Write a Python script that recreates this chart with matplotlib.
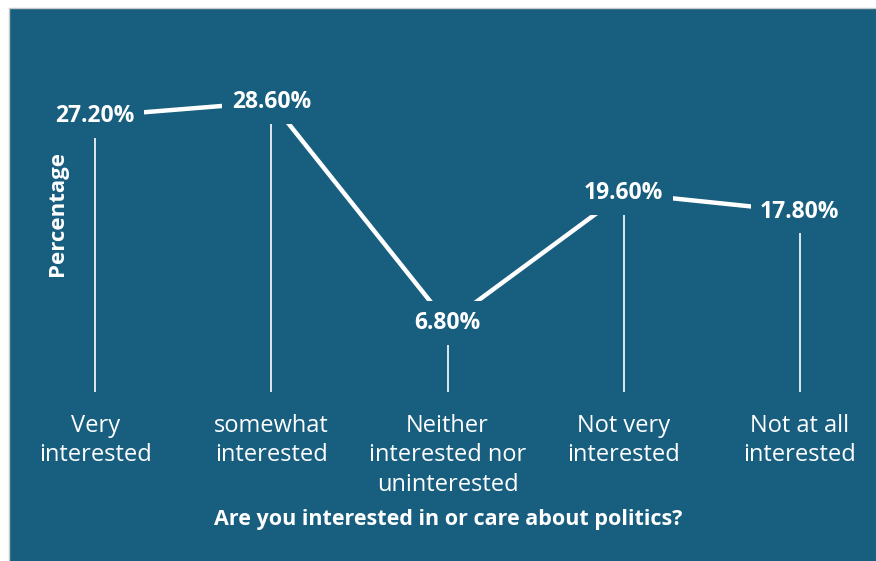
import matplotlib.pyplot as plt
from matplotlib.patches import Rectangle

categories = ["Very\ninterested", "somewhat\ninterested", "Neither\ninterested nor\nuninterested",
              "Not very\ninterested", "Not at all\ninterested"]
values = [27.2, 28.6, 6.8, 19.6, 17.8]
labels = ["27.20%", "28.60%", "6.80%", "19.60%", "17.80%"]

bg = "#175e7f"
plt.rcParams['font.family'] = ['Open Sans', 'DejaVu Sans']

fig = plt.figure(figsize=(8.76, 5.61), dpi=100, facecolor='white')
W, H = 876, 561

# panel background with thin grey edge on left/top
fig.patches.append(Rectangle((9 / W, -0.01), 1.0, 1 - 8 / H + 0.01, transform=fig.transFigure,
                             facecolor=bg, edgecolor='#c8c8c8', linewidth=1.0, zorder=-5))

ax = fig.add_axes([9 / W, (H - 392) / H, (W - 9) / W, 384 / H])
ax.set_zorder(2)
ax.set_facecolor('none')
ax.set_xlim(-0.489, 4.432)
ax.set_ylim(0, 37.87)
for s in ax.spines.values():
    s.set_visible(False)
ax.set_xticks([])
ax.set_yticks([])

x = list(range(len(values)))
ax.vlines(x, 0, values, color='white', linewidth=1.2, zorder=1)
ax.plot(x, values, color='white', linewidth=3.2, solid_capstyle='butt', zorder=2)

for xi, v, lab in zip(x, values, labels):
    ax.text(xi, v, lab, ha='center', va='center', color='white', fontsize=16.5,
            fontweight='bold', zorder=3,
            bbox=dict(boxstyle='square,pad=0.42', facecolor=bg, edgecolor='none'))

for xi, cat in zip(x, categories):
    ax.text(xi, -2.15, cat, ha='center', va='top', color='white', fontsize=17,
            linespacing=1.31, clip_on=False)

fig.text(58 / W, 1 - 213 / H, "Percentage", rotation=90, ha='center', va='center',
         color='white', fontsize=16, fontweight='bold')
fig.text(448 / W, 1 - 520 / H, "Are you interested in or care about politics?",
         ha='center', va='center', color='white', fontsize=15.5, fontweight='bold')

fig.savefig("out.png", dpi=100, facecolor='white')
